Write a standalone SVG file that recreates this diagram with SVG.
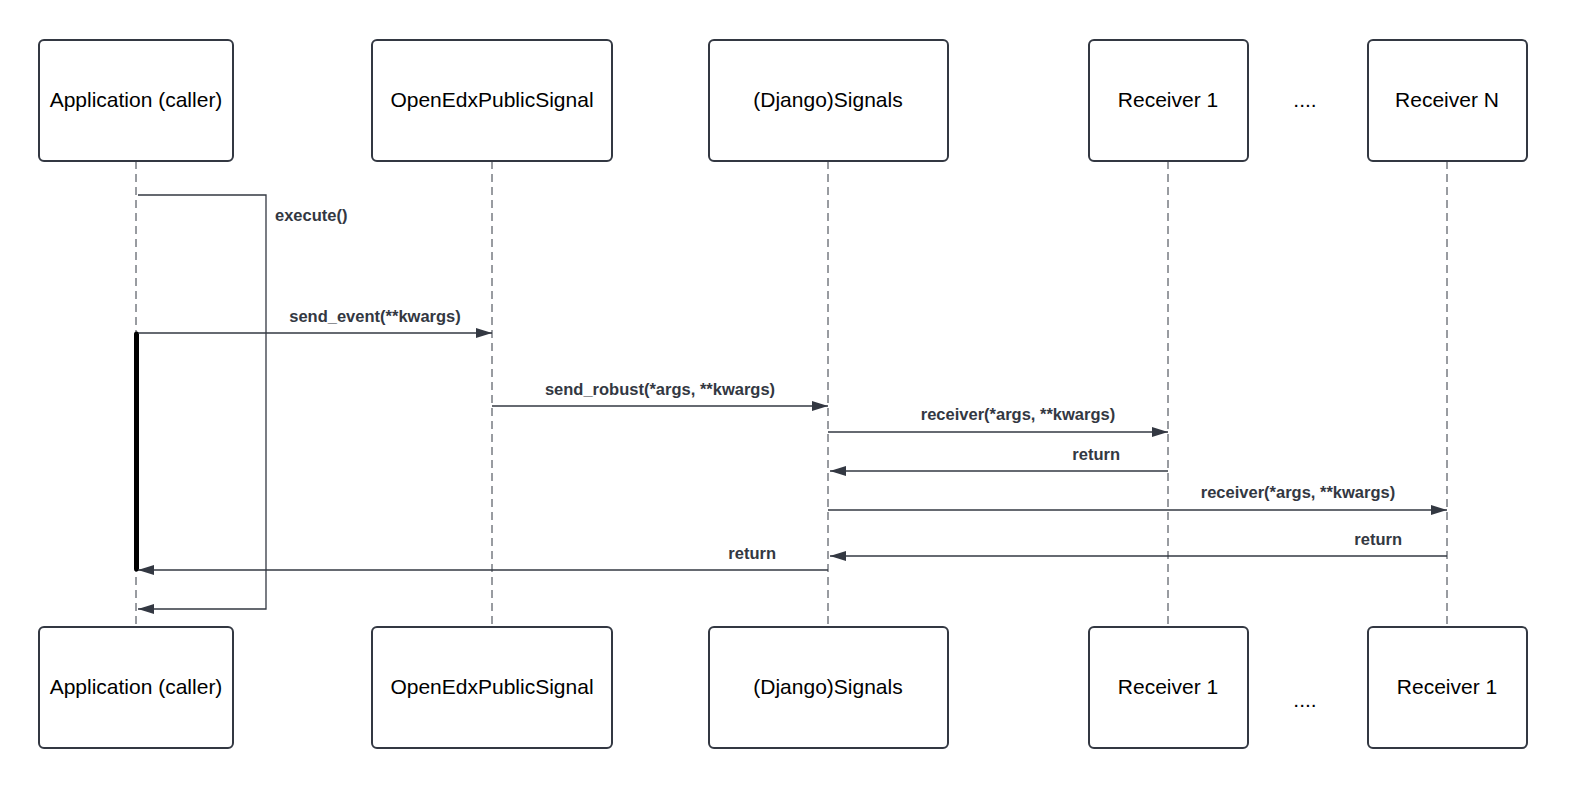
<svg xmlns="http://www.w3.org/2000/svg" width="1584" height="797" viewBox="0 0 1584 797">
<style>
.box{fill:#fff;stroke:#333842;stroke-width:2}
.t{font-family:"Liberation Sans",Arial,sans-serif;font-size:21px;fill:#000;text-anchor:middle}
.l{font-family:"Liberation Sans",Arial,sans-serif;font-size:16.5px;font-weight:bold;fill:#333842}
.life{stroke:#333842;stroke-width:1;stroke-dasharray:8 5;fill:none}
.m{stroke:#333842;stroke-width:1.3;fill:none;marker-end:url(#a)}
</style>
<defs><marker id="a" markerWidth="16" markerHeight="10" refX="16" refY="5" orient="auto" markerUnits="userSpaceOnUse"><path d="M0,0L16,5L0,10z" fill="#333842"/></marker></defs>
<rect width="1584" height="797" fill="#fff"/>
<g id="lifelines">
<line class="life" x1="136" y1="161" x2="136" y2="627"/>
<line class="life" x1="492" y1="161" x2="492" y2="627"/>
<line class="life" x1="828" y1="161" x2="828" y2="627"/>
<line class="life" x1="1168" y1="161" x2="1168" y2="627"/>
<line class="life" x1="1447" y1="161" x2="1447" y2="627"/>
</g>
<g id="n1"><rect class="box" x="39" y="40" width="194" height="121" rx="5"/><text class="t" x="136" y="107">Application (caller)</text></g>
<g id="n2"><rect class="box" x="372" y="40" width="240" height="121" rx="5"/><text class="t" x="492" y="107">OpenEdxPublicSignal</text></g>
<g id="n3"><rect class="box" x="709" y="40" width="239" height="121" rx="5"/><text class="t" x="828" y="107">(Django)Signals</text></g>
<g id="n4"><rect class="box" x="1089" y="40" width="159" height="121" rx="5"/><text class="t" x="1168" y="107">Receiver 1</text></g>
<g id="n5"><rect class="box" x="1368" y="40" width="159" height="121" rx="5"/><text class="t" x="1447" y="107">Receiver N</text></g>
<text class="t" x="1305" y="107">....</text>
<g id="b1"><rect class="box" x="39" y="627" width="194" height="121" rx="5"/><text class="t" x="136" y="694">Application (caller)</text></g>
<g id="b2"><rect class="box" x="372" y="627" width="240" height="121" rx="5"/><text class="t" x="492" y="694">OpenEdxPublicSignal</text></g>
<g id="b3"><rect class="box" x="709" y="627" width="239" height="121" rx="5"/><text class="t" x="828" y="694">(Django)Signals</text></g>
<g id="b4"><rect class="box" x="1089" y="627" width="159" height="121" rx="5"/><text class="t" x="1168" y="694">Receiver 1</text></g>
<g id="b5"><rect class="box" x="1368" y="627" width="159" height="121" rx="5"/><text class="t" x="1447" y="694">Receiver 1</text></g>
<text class="t" x="1305" y="707">....</text>
<g id="activation"><line x1="136.5" y1="334" x2="136.5" y2="569" stroke="#000" stroke-width="5" stroke-linecap="round"/></g>
<g id="connectors">
<path class="m" d="M138,195H266V609H138"/>
<text class="l" x="275" y="221">execute()</text>
<path class="m" d="M138,333H492"/>
<text class="l" x="375" y="322" text-anchor="middle">send_event(**kwargs)</text>
<path class="m" d="M492,406H828"/>
<text class="l" x="660" y="395" text-anchor="middle">send_robust(*args, **kwargs)</text>
<path class="m" d="M828,432H1168"/>
<text class="l" x="1018" y="420" text-anchor="middle">receiver(*args, **kwargs)</text>
<path class="m" d="M1168,471H830"/>
<text class="l" x="1120" y="460" text-anchor="end">return</text>
<path class="m" d="M828,510H1447"/>
<text class="l" x="1298" y="498" text-anchor="middle">receiver(*args, **kwargs)</text>
<path class="m" d="M1447,556H830"/>
<text class="l" x="1402" y="545" text-anchor="end">return</text>
<path class="m" d="M828,570H138"/>
<text class="l" x="776" y="559" text-anchor="end">return</text>
</g>
</svg>
